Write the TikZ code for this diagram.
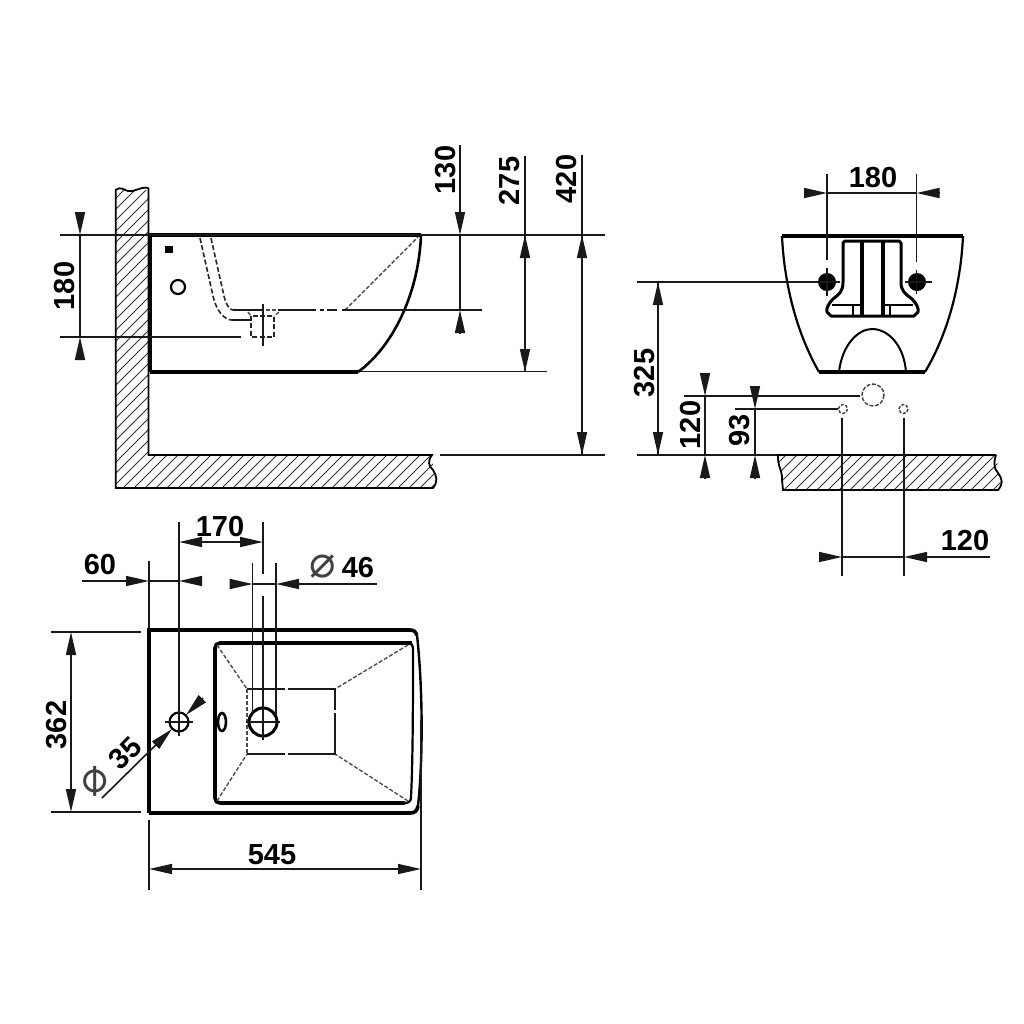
\documentclass[tikz,border=0pt]{standalone}
\usepackage{fontspec}
\setmainfont{Liberation Sans}
\newfontfamily\symfont{DejaVu Sans}
\usetikzlibrary{arrows.meta}
\tikzset{
 x=0.5pt,y=-0.5pt,
 dim/.style={line width=0.8pt,black!90},
 ah/.style={-{Triangle[length=11.5pt,width=5pt]}},
 ext/.style={line width=0.75pt,black!90},
 thick line/.style={line width=1.8pt},
 med line/.style={line width=1.1pt},
 hid/.style={line width=0.7pt,dash pattern=on 2pt off 1pt,black!70},
 hidk/.style={line width=0.8pt,dash pattern=on 2.5pt off 1.2pt,black!85},
 hatchline/.style={line width=0.5pt,black!80},
 num/.style={font=\bfseries\fontsize{14.5}{15}\selectfont,inner sep=0pt},
 numr/.style={num,rotate=90},
 phi/.style={font=\symfont\fontsize{22}{22}\selectfont,inner sep=0pt,text=black!75},
}
\begin{document}
\begin{tikzpicture}
\useasboundingbox[fill=white] (0,0) rectangle (1024,1024);
% ---- side wall + floor
\begin{scope}
\clip (116,190) -- (148,190) -- (148,455) -- (432,455) -- (435,488) -- (116,488) -- cycle;
\foreach \k in {270,281,...,950}{\draw[hatchline] (\k,0) -- ++(-700,700);}
\end{scope}
\draw[line width=0.9pt] (148.5,188) -- (148.5,455) -- (432,455)
  .. controls (427,462) and (429,466) .. (433,470) .. controls (437,476) and (438,482) .. (433,488)
  -- (115.7,488) -- (115.7,190) .. controls (120,186) and (124,190) .. (128,191) .. controls (134,193) and (140,186) .. (148.5,188);
% ---- side body
\draw[thick line] (150,372) -- (150,235) -- (421,235);
\draw[line width=1.3pt] (421,235) .. controls (419,290) and (395,345) .. (358,372);
\draw[thick line] (150,372) -- (358,372);
\fill (165,246) rectangle (173,253);
\draw[line width=1.1pt] (178,287) circle (7);
% hidden lines
\draw[hidk] (200,238) -- (213,296) .. controls (216,310) and (224,320) .. (232,320);
\draw[hidk] (211,238) -- (224,296) .. controls (226,305) and (230,310) .. (233,310);
\draw[hid] (345,310) -- (418,237);
\draw[hidk] (251,316) -- (251,337) -- (274,337) -- (274,316) -- (251,316);
\draw[hid] (248,312) -- (251,316) (279,312) -- (274,316);
\coordinate (r1) at (233,310); \coordinate (r2) at (482,310);
\draw[ext] (r1) -- (262,310) (278,310) -- (316,310) (320,310) -- (324,310) (327,310) -- (337,310) (342,310) -- (r2);
\draw[hid] (266,310) -- (278,310);
\draw[ext] (232,320) -- (250,320);
\draw[ext] (263,304) -- (263,346);
\draw[ext] (60,337) -- (241,337);
% dims side
\draw[ext] (60,235) -- (605,235);
\draw[ext] (358,371.5) -- (547,371.5);
\draw[ext] (440,455) -- (605,455);
\draw[dim,ah] (80,212) -- (80,235);
\draw[dim,ah] (80,358) -- (80,337);
\draw[dim] (80,235) -- (80,337);
\node[numr] at (65,286) {180};
\draw[dim,ah] (460,145) -- (460,235);
\draw[dim,ah] (460,333) -- (460,310);
\draw[dim] (460,235) -- (460,310);
\node[numr] at (446,170) {130};
\draw[dim,ah] (525,372) -- (525,235);
\draw[dim] (525,156) -- (525,235);
\draw[dim,ah] (525,235) -- (525,372);
\node[numr] at (510,181) {275};
\draw[dim,ah] (582,455) -- (582,235);
\draw[dim] (582,155) -- (582,235);
\draw[dim,ah] (582,235) -- (582,455);
\node[numr] at (567,179) {420};
% ---- front view
\draw[line width=1.1pt] (782,236) .. controls (784,280) and (795,330) .. (819,372);
\draw[line width=1.1pt] (963,236) .. controls (961,280) and (950,330) .. (925,372);
\draw[thick line] (782,236) -- (963,236);
\draw[thick line] (819,372) -- (925,372);
\draw[line width=1pt] (839,372) .. controls (842,345) and (858,329) .. (872,329) .. controls (888,329) and (904,345) .. (906,372);
% bracket
\draw[line width=1.5pt,line join=round] (845,241) -- (899,241) -- (901,243) -- (901,282) .. controls (901,292) and (906,294) .. (912,299) .. controls (916,303) and (919,308) .. (918,312) -- (914,316) -- (831,316) -- (827,312) .. controls (826,308) and (829,303) .. (833,299) .. controls (839,294) and (843,292) .. (843,282) -- (843,243) -- cycle;
\draw[line width=1.8pt] (862,241) -- (862,316) (883,241) -- (883,316);
\draw[line width=1.3pt] (832,305) -- (862,305) (883,305) -- (913,305);
\draw[line width=1.1pt] (853,305) -- (853,316) (890,305) -- (890,316);
\fill (827,282) circle (9);
\fill (917,282) circle (9);
\draw[ext] (827,174) -- (827,260) (827,268) -- (827,296);
\draw[ext] (916.5,174) -- (916.5,262) (916.5,270) -- (916.5,294);
\draw[ext] (905,282) -- (932,282);
\draw[ext] (637,282) -- (840,282);
\draw[dim,ah] (805,193) -- (827,193);
\draw[dim,ah] (940,193) -- (916.5,193);
\draw[dim] (827,193) -- (916.5,193);
\node[num] at (873,178) {180};
\draw[dim,ah] (658,455) -- (658,282);
\draw[dim,ah] (658,282) -- (658,455);
\node[numr] at (645,373) {325};
% pipes
\draw[line width=0.7pt,dash pattern=on 2pt off 0.8pt,black!75] (873,395) circle (11);
\draw[line width=0.7pt,dash pattern=on 1.5pt off 0.8pt,black!75] (843,409) circle (4.5);
\draw[line width=0.7pt,dash pattern=on 1.5pt off 0.8pt,black!75] (903.5,409) circle (4.5);
\draw[ext] (684,396) -- (860,396);
\draw[ext] (735,409) -- (838,409);
\draw[ext] (637,455) -- (778,455);
\draw[dim,ah] (705,374) -- (705,396);
\draw[dim,ah] (705,478) -- (705,455);
\draw[dim] (705,396) -- (705,455);
\node[numr] at (691,425) {120};
\draw[dim,ah] (755,387) -- (755,409);
\draw[dim,ah] (755,478) -- (755,455);
\draw[dim] (755,409) -- (755,455);
\node[numr] at (740,430) {93};
% floor right
\begin{scope}
\clip (778,455) -- (996,455) -- (1002,490) -- (783,490) -- cycle;
\foreach \k in {790,801,...,1070}{\draw[hatchline] (\k,440) -- ++(-60,60);}
\end{scope}
\draw[line width=0.9pt] (996,455) -- (778,455) .. controls (777,465) and (783,472) .. (782,480) -- (783,490) -- (998,490) .. controls (1003,484) and (1003,480) .. (998,473) .. controls (993,468) and (994,460) .. (996,455);
\draw[ext] (842,418) -- (842,576);
\draw[ext] (904,418) -- (904,576);
\draw[dim,ah] (820,557) -- (842,557);
\draw[dim,ah] (990,557) -- (904,557);
\draw[dim] (842,557) -- (904,557);
\node[num] at (965,541) {120};
% ---- plan
\draw[thick line] (149,813) -- (149,630) -- (410,630) .. controls (414,630) and (416,632) .. (417,635);
\draw[line width=1.2pt] (417,635) .. controls (423,690) and (423,760) .. (418,806);
\draw[thick line] (418,806) .. controls (417,811) and (415,813) .. (410,813) -- (149,813);
\draw[thick line] (412,643) -- (220,643) .. controls (217,643) and (215,645) .. (215,648) -- (215,798) .. controls (215,801) and (217,803) .. (220,803) -- (405,803);
\draw[line width=1.1pt] (405,803) .. controls (409,803) and (411,801) .. (411,797) .. controls (413,760) and (413,690) .. (413,650) .. controls (413,646) and (412,643) .. (408,643);
\draw[hid] (217,645) -- (247,689) (408,645) -- (335,689) (217,801) -- (247,754) (408,801) -- (335,754);
\draw[ext] (247,689) -- (285,689) (288,689) -- (335,689) -- (335,710) (335,713) -- (335,754) -- (288,754) (285,754) -- (247,754);
\draw[hid] (247,689) -- (247,754);
\draw[line width=1.3pt] (222,722) ellipse (4 and 9);
\draw[med line] (179,722) circle (9.5);
\draw[ext] (165,722) -- (193,722);
\draw[ext] (179,522) -- (179,736);
\draw[line width=1.5pt] (263,722) circle (14);
\draw[ext] (246,722) -- (280,722);
\draw[ext] (263,522) -- (263,574) (263,596) -- (263,740);
\draw[ext] (252.7,563) -- (252.7,715) (276,563) -- (276,715);
\draw[ext] (149,561) -- (149,628);
\draw[dim,ah] (82,581) -- (149,581);
\draw[dim,ah] (201,581) -- (179,581);
\draw[dim] (149,581) -- (179,581);
\node[num] at (100,565) {60};
\draw[dim,ah] (201,542) -- (179,542);
\draw[dim,ah] (241,542) -- (263,542);
\draw[dim] (201,542) -- (241,542);
\node[num] at (220,527) {170};
\draw[dim,ah] (230,584) -- (252.7,584);
\draw[dim,ah] (377,584) -- (276,584);
\draw[dim] (252.7,584) -- (276,584);
\node[phi] at (323,567) {⌀};
\node[num] at (358,568) {46};
% 362
\draw[ext] (51,632) -- (141,632);
\draw[ext] (51,812) -- (141,812);
\draw[dim,ah] (71,722) -- (71,632);
\draw[dim,ah] (71,722) -- (71,812);
\node[numr] at (57,725) {362};
% 545
\draw[ext] (149,820) -- (149,890);
\draw[ext] (421,720) -- (421,890);
\draw[dim,ah] (285,869) -- (149,869);
\draw[dim,ah] (285,869) -- (421,869);
\node[num] at (272,855) {545};
% phi 35
\draw[dim,ah] (102,798) -- (172,729);
\draw[dim,ah] (203,698) -- (186,715);
\node[phi,rotate=45] at (95,781) {⌀};
\node[num,rotate=45] at (125,753) {35};
\end{tikzpicture}
\end{document}
